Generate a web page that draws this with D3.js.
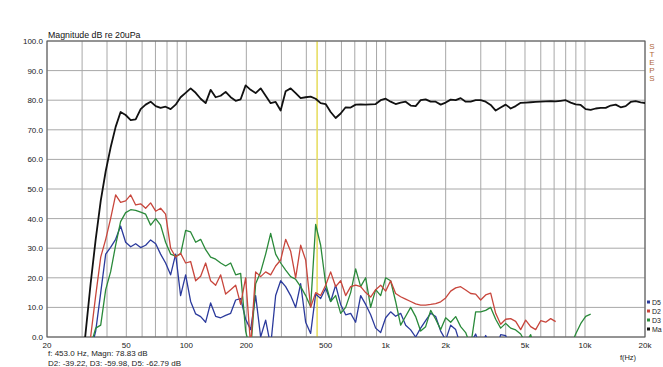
<!DOCTYPE html>
<html>
<head>
<meta charset="utf-8">
<script src="https://cdn.jsdelivr.net/npm/d3@7"></script>
<style>
  body { margin: 0; background: #fff; }
  text { font-family: "Liberation Sans", Arial, sans-serif; }
</style>
</head>
<body>
<div class="chart-container"></div>
<script>
// frequency points (Hz), 1/12 octave steps
const freqs = [29.5,
  31.3, 33.1, 35.1, 37.2, 39.4, 41.7, 44.2, 46.8, 49.6, 52.6, 55.7, 59.0,
  62.5, 66.2, 70.2, 74.3, 78.7, 83.4, 88.4, 93.6, 99.2, 105.1, 111.4, 118.0,
  125, 132.4, 140.3, 148.7, 157.5, 166.9, 176.8, 187.3, 198.4, 210.2, 222.7, 236.0,
  250, 264.9, 280.6, 297.3, 315, 333.7, 353.6, 374.6, 396.9, 420.4, 445.4, 471.9,
  500, 529.7, 561.2, 594.6, 630, 667.4, 707.1, 749.2, 793.7, 840.9, 890.9, 943.9,
  1000, 1059, 1122, 1189, 1260, 1335, 1414, 1498, 1587, 1682, 1782, 1888,
  2000, 2119, 2245, 2378, 2520, 2670, 2828, 2997, 3175, 3364, 3564, 3775,
  4000, 4238, 4490, 4757, 5040, 5339, 5657, 5993, 6350, 6727, 7127, 7551,
  8000, 8476, 8980, 9514, 10079, 10679, 11314, 11986, 12699, 13454, 14254, 15102,
  16000, 16951, 17959, 19027, 20159];

// Magnitude (black)
const magnitude = [-15, 2, 18, 33, 46, 56, 64, 71, 76, 75,
  73.3, 73.5, 77, 78.5, 79.5, 78, 77.4, 77.8, 77, 78.5,
  81, 82.5, 84, 82.5, 80.5, 79, 83.5, 81, 81.5, 82.8,
  81, 79.8, 80.3, 85, 83.5, 82.4, 84, 81.5, 79, 79.4,
  76.5, 83, 84, 82.4, 80.7, 81, 81.2, 80.5, 79, 78.7,
  76, 74, 75.5, 77.6, 77.5, 78.5, 78.6, 78.5, 78.6, 78.7,
  80, 80.5, 79.5, 78.7, 79.2, 79.5, 78.2, 78, 80, 80.3,
  79.5, 79.5, 78.5, 79.2, 80.2, 80, 80.7, 79.5, 79.5, 80,
  80, 79.5, 78.4, 76.5, 77.5, 78.5, 77.2, 78, 79.1, 79.2,
  79.3, 79.4, 79.5, 79.6, 79.7, 79.6, 79.8, 80, 79.2, 78.6,
  78.4, 77, 76.7, 77.2, 77.4, 77.4, 78.2, 78.5, 77.6, 78,
  79.4, 79.7, 79.3, 79];

// D2 distortion (red)
const d2Values = [-15, -5, 0, 14, 27, 33, 40, 48, 45.5, 46,
  48, 44.6, 45, 43.5, 45.3, 42.5, 43.5, 41.5, 30, 27,
  28.3, 25, 25.5, 19, 20.5, 25, 19, 17.5, 21, 14.5,
  16, 17.5, 11, 20, -3, 22, 20.4, 22, 21, 24,
  26, 33, 29, 20, 31, 26, 10, 15, 14, 17.5,
  22, 17, 19, 14, 17, 17.5, 17, 15, 13.5, 16,
  17.5, 15.5, 19, 14.7, 13.6, 12.8, 12, 11.2, 10.8, 10.8,
  11, 11.3, 11.9, 13.2, 15.5, 16.6, 17, 15.9, 14.7, 14.5,
  12.5, 14.2, 14.8, 8, 4.3, 6, 6.2, 5.3, 2.5, 5.7,
  3.5, 2.5, 5.5, 5, 6.2, 5.2, null, null, null, null,
  null, null, null, null, null, null, null, null, null, null,
  null, null, null, null];

// D3 distortion (green)
const d3Values = [-15, -15, -3, 3, 4, 16, 22, 31, 39, 42,
  43, 42.8, 42.2, 41.5, 37.8, 40, 37.8, 32, 28, 27.3,
  28, 36, 35.5, 32, 33, 29.5, 27, 26.3, 25, 24,
  25, 21, 21.5, 2, -5, 18, 22, 28, 35, 28,
  25, 22.6, 20.4, 19.5, 17, 14, 10.2, 38, 31, 18,
  12, 14, 8, 10, 15, 23, 17, 20, 10, 16,
  14, 20, 19, 12, 4, 7, 10, 6.9, 2, 3.5,
  9, 6, 2.5, 6.5, 5, 6.9, 3.5, 1.5, -3, 8.5,
  8.5, 9, 10, 6, 3, 4.6, 3, 2.4, 1, -2,
  0.8, -5, -15, -15, -15, -15, -15, -15, -3, 1,
  4.5, 7, 7.7, null, null, null, null, null, null, null,
  null, null, null, null];

// D5 distortion (blue)
const d5Values = [-15, -15, -5, 2, 15, 28, 30.3, 33, 37.5, 32,
  30.5, 31.5, 30.2, 31, 32.8, 31.5, 28, 25, 21, 28,
  14, 21, 12, 7.8, 6.9, 5, 11.5, 7, 6.5, 7.3,
  8, 12.5, 13, 6, 2.5, 14, 0, 5.7, -3, 14,
  19, 17, 14, 10, 18, 5, 1.2, 14.5, 13, 16.5,
  12, 17.5, 11, 7.5, 8, 5, 14, 11, 7.5, 3,
  1.5, 6.5, 8.5, 7, 8, 4, 2.4, 0, 3, 5.5,
  8, 6.9, 2, -1, 4, 2.5, -3, -5, -2, 1,
  -4, 0.5, -3, -5, 0.8, 0.5, -5, null, null, null,
  null, null, null, null, null, null, null, null, null, null,
  null, null, null, null, null, null, null, null, null, null,
  null, null, null, null];

const yTicks = [0, 10, 20, 30, 40, 50, 60, 70, 80, 90, 100];
const xTickValues = [20, 50, 100, 200, 500, 1000, 2000, 5000, 10000, 20000];
const xTickLabels = ['20', '50', '100', '200', '500', '1k', '2k', '5k', '10k', '20k'];
const xGrid = [20, 30, 40, 50, 60, 70, 80, 90, 100, 200, 300, 400, 500, 600, 700, 800, 900,
  1000, 2000, 3000, 4000, 5000, 6000, 7000, 8000, 9000, 10000, 20000];
const legendNames = ['D5', 'D2', 'D3', 'Ma'];
const legendColors = ['#2b3a9c', '#c8463c', '#2a8a3a', '#111'];
const cursorFreq = 453;
const readout = ['f: 453.0 Hz, Magn: 78.83 dB', 'D2: -39.22, D3: -59.98, D5: -62.79 dB'];

const W = 663, H = 367;
const margin = { top: 41, right: 18, bottom: 30, left: 47 };
const width = W - margin.left - margin.right;
const height = H - margin.top - margin.bottom;

const svg = d3.select('.chart-container')
  .append('svg')
  .attr('width', W)
  .attr('height', H);

svg.append('rect').attr('width', W).attr('height', H).attr('fill', '#fff');

const g = svg.append('g')
  .attr('transform', `translate(${margin.left}, ${margin.top})`);

const x = d3.scaleLog().domain([20, 20000]).range([0, width]);
const y = d3.scaleLinear().domain([0, 100]).range([height, 0]);

g.append('clipPath').attr('id', 'plot-clip')
  .append('rect').attr('width', width).attr('height', height);

// grid
g.selectAll('.vgrid').data(xGrid).enter().append('line')
  .attr('x1', d => x(d)).attr('x2', d => x(d))
  .attr('y1', 0).attr('y2', height)
  .attr('stroke', '#a8a8a8').attr('stroke-width', 1);

g.selectAll('.hgrid').data(yTicks).enter().append('line')
  .attr('x1', 0).attr('x2', width)
  .attr('y1', d => y(d)).attr('y2', d => y(d))
  .attr('stroke', '#a8a8a8').attr('stroke-width', 1);

// cursor
g.append('line')
  .attr('x1', x(cursorFreq)).attr('x2', x(cursorFreq))
  .attr('y1', 0).attr('y2', height)
  .attr('stroke', '#e6dc5a').attr('stroke-width', 1.5);

// frame
g.append('rect').attr('width', width).attr('height', height)
  .attr('fill', 'none').attr('stroke', '#555').attr('stroke-width', 1);

const line = d3.line()
  .defined(d => d[1] !== null)
  .x(d => x(d[0]))
  .y(d => y(d[1]));

const series = [
  { values: d5Values, color: '#2b3a9c', w: 1.3 },
  { values: d3Values, color: '#2a8a3a', w: 1.3 },
  { values: d2Values, color: '#c8463c', w: 1.3 },
  { values: magnitude, color: '#111', w: 1.8 }
];

series.forEach(s => {
  g.append('path')
    .datum(freqs.map((f, i) => [f, s.values[i]]))
    .attr('clip-path', 'url(#plot-clip)')
    .attr('fill', 'none')
    .attr('stroke', s.color)
    .attr('stroke-width', s.w)
    .attr('stroke-linejoin', 'round')
    .attr('d', line);
});

// axis labels
g.selectAll('.ylab').data(yTicks).enter().append('text')
  .attr('x', -4).attr('y', d => y(d) + 3)
  .attr('text-anchor', 'end')
  .attr('font-size', 8).attr('fill', '#222')
  .text(d => d.toFixed(1));

g.selectAll('.xlab').data(xTickValues).enter().append('text')
  .attr('x', d => x(d)).attr('y', height + 11)
  .attr('text-anchor', 'middle')
  .attr('font-size', 8).attr('fill', '#222')
  .text((d, i) => xTickLabels[i]);

svg.append('text')
  .attr('x', 628).attr('y', 360)
  .attr('text-anchor', 'middle')
  .attr('font-size', 7.5).attr('fill', '#222')
  .text('f(Hz)');

svg.append('text')
  .attr('x', 48).attr('y', 38)
  .attr('font-size', 8.8).attr('fill', '#111')
  .text('Magnitude dB re 20uPa');

svg.selectAll('.readout').data(readout).enter().append('text')
  .attr('x', 48).attr('y', (d, i) => 356 + i * 9.5)
  .attr('font-size', 8).attr('fill', '#222')
  .text(d => d);

// STEPS vertical
svg.selectAll('.steps').data('STEPS'.split('')).enter().append('text')
  .attr('x', 652).attr('y', (d, i) => 49 + i * 8)
  .attr('text-anchor', 'middle')
  .attr('font-size', 8).attr('fill', '#b0683c')
  .text(d => d);

// legend
const leg = svg.selectAll('.leg').data(legendNames).enter().append('g')
  .attr('transform', (d, i) => `translate(647, ${303 + i * 9})`);
leg.append('rect').attr('x', 0).attr('y', -2.5).attr('width', 3).attr('height', 3)
  .attr('fill', (d, i) => legendColors[i]);
leg.append('text').attr('x', 5).attr('y', 2)
  .attr('font-size', 7).attr('fill', '#222')
  .text(d => d);
</script>
</body>
</html>
